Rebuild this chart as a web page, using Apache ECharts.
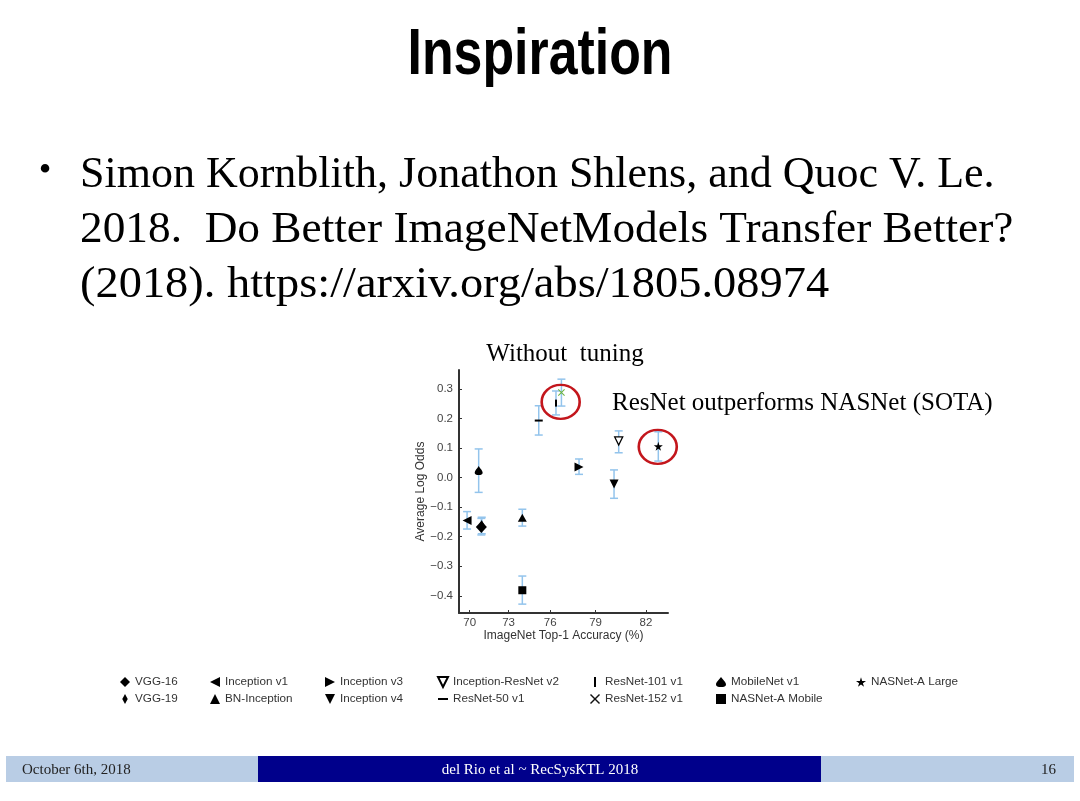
<!DOCTYPE html>
<html lang="en">
<head>
<meta charset="utf-8">
<title>Inspiration</title>
<script src="https://cdn.jsdelivr.net/npm/echarts@6/dist/echarts.min.js"></script>
<style>
    html, body { margin: 0; padding: 0; background: #fff; }
    #main { width: 1080px; height: 801px; }
</style>
</head>
<body>
<div id="main"></div>
<script type="text/javascript">
// data (Kornblith et al. 2018, "Without tuning")
var models = ['VGG-16', 'VGG-19', 'Inception v1', 'BN-Inception', 'Inception v3', 'Inception v4',
    'Inception-ResNet v2', 'ResNet-50 v1', 'ResNet-101 v1', 'ResNet-152 v1', 'MobileNet v1',
    'NASNet-A Mobile', 'NASNet-A Large'];
var accuracy = [70.92, 70.95, 69.79, 74.02, 77.94, 80.14, 80.42, 75.2, 76.4, 76.77, 70.71, 74.02, 82.68];
var logOdds = [-0.167, -0.162, -0.145, -0.136, 0.036, -0.022, 0.124, 0.193, 0.252, 0.288, 0.024, -0.381, 0.106];
var errLow = [-0.194, -0.190, -0.174, -0.164, 0.011, -0.070, 0.084, 0.144, 0.212, 0.242, -0.050, -0.428, 0.056];
var errHigh = [-0.138, -0.134, -0.115, -0.107, 0.063, 0.026, 0.158, 0.243, 0.293, 0.333, 0.097, -0.333, 0.155];
var xTicks = [70, 73, 76, 79, 82];
var yTicks = [-0.4, -0.3, -0.2, -0.1, 0.0, 0.1, 0.2, 0.3];
// highlighted points (red rings)
var ringAcc = [76.72, 82.65];
var ringOdds = [0.256, 0.104];

// legend columns, as on the slide
var legendCols = [
    ['VGG-16', 'VGG-19'],
    ['Inception v1', 'BN-Inception'],
    ['Inception v3', 'Inception v4'],
    ['Inception-ResNet v2', 'ResNet-50 v1'],
    ['ResNet-101 v1', 'ResNet-152 v1'],
    ['MobileNet v1', 'NASNet-A Mobile'],
    ['NASNet-A Large']
];
var legendLeft = [115, 205, 320, 432, 585, 711, 851];

// marker look per model
var markers = {
    'VGG-16': {symbol: 'diamond', size: [11, 12]},
    'VGG-19': {symbol: 'path://M3,0L6,5.5L3,11L0,5.5Z', size: [6, 11]},
    'Inception v1': {symbol: 'path://M0,5L10,0L10,10Z', size: [9, 9]},
    'BN-Inception': {symbol: 'triangle', size: [9, 8]},
    'Inception v3': {symbol: 'path://M10,5L0,0L0,10Z', size: [9, 9]},
    'Inception v4': {symbol: 'path://M0,0L10,0L5,10Z', size: [9, 9]},
    'Inception-ResNet v2': {symbol: 'path://M0,0L10,0L5,10Z', size: [8, 8], open: true},
    'ResNet-50 v1': {symbol: 'path://M0,0H10V2H0Z', size: [8, 2]},
    'ResNet-101 v1': {symbol: 'path://M0,0H2V10H0Z', size: [2, 7]},
    'ResNet-152 v1': {symbol: 'path://M0,1L1,0L5,4L9,0L10,1L6,5L10,9L9,10L5,6L1,10L0,9L4,5Z', size: [7, 7], color: '#6cb33f'},
    'MobileNet v1': {symbol: 'path://M5,0C7,3 10,5 10,7.5C10,9.5 8,10 5,10C2,10 0,9.5 0,7.5C0,5 3,3 5,0Z', size: [8, 9]},
    'NASNet-A Mobile': {symbol: 'rect', size: [8, 8]},
    'NASNet-A Large': {symbol: 'path://M50,0L61,35L98,35L68,57L79,91L50,70L21,91L32,57L2,35L39,35Z', size: [9, 9]}
};

function logit(pct) {
    var p = pct / 100;
    return Math.log(p / (1 - p));
}
function unlogit(v) {
    return 100 / (1 + Math.exp(-v));
}

var myChart = echarts.init(document.getElementById('main'));

var series = [];
// error bars
series.push({
    type: 'custom',
    silent: true,
    z: 1,
    encode: {x: 0, y: [1, 2]},
    data: models.map(function (m, i) {
        return [logit(accuracy[i]), errLow[i], errHigh[i]];
    }),
    renderItem: function (params, api) {
        var lo = api.coord([api.value(0), api.value(1)]);
        var hi = api.coord([api.value(0), api.value(2)]);
        var cap = 4;
        var st = {stroke: '#93c4ec', lineWidth: 1.5};
        return {
            type: 'group',
            children: [
                {type: 'line', shape: {x1: lo[0], y1: lo[1], x2: hi[0], y2: hi[1]}, style: st},
                {type: 'line', shape: {x1: lo[0] - cap, y1: lo[1], x2: lo[0] + cap, y2: lo[1]}, style: st},
                {type: 'line', shape: {x1: hi[0] - cap, y1: hi[1], x2: hi[0] + cap, y2: hi[1]}, style: st}
            ]
        };
    }
});
// one scatter series per model
models.forEach(function (m, i) {
    var mk = markers[m];
    series.push({
        name: m,
        type: 'scatter',
        z: 3,
        symbol: mk.symbol,
        symbolSize: mk.size,
        itemStyle: mk.open
            ? {color: '#fff', borderColor: '#000', borderWidth: 1.3, opacity: 1}
            : {color: mk.color || '#000', opacity: 1},
        data: [[logit(accuracy[i]), logOdds[i]]]
    });
});
// red rings
series.push({
    type: 'scatter',
    silent: true,
    z: 4,
    symbol: 'circle',
    symbolSize: [38, 34],
    itemStyle: {color: 'rgba(0,0,0,0)', borderColor: '#c3161c', borderWidth: 2.5, opacity: 1},
    data: ringAcc.map(function (a, i) { return [logit(a), ringOdds[i]]; })
});

var legends = legendCols.map(function (col, c) {
    return {
        orient: 'vertical',
        left: legendLeft[c],
        top: 671,
        itemWidth: 10,
        itemHeight: 10,
        itemGap: 5,
        selectedMode: false,
        textStyle: {fontFamily: 'Liberation Sans', fontSize: 11.7, color: '#333', lineHeight: 12},
        data: col.map(function (n) {
            return n === 'ResNet-152 v1' ? {name: n, itemStyle: {color: '#111'}} : n;
        })
    };
});

var serif = "'Liberation Serif', 'DejaVu Serif', serif";
var bodyLines = [
    'Simon Kornblith, Jonathon Shlens, and Quoc V. Le.',
    '2018.  Do Better ImageNetModels Transfer Better?',
    '(2018). https://arxiv.org/abs/1805.08974'
];
var bodyStretch = [1.0, 1.03, 1.055];

var graphics = [
    {type: 'text', x: 540, y: 56, scaleX: 0.81, style: {text: 'Inspiration', fill: '#000', align: 'center', verticalAlign: 'middle',
        fontFamily: "'Liberation Sans', Arial, sans-serif", fontWeight: 'bold', fontSize: 64}},
    {type: 'text', x: 45, y: 172, style: {text: '•', fill: '#000', align: 'center', verticalAlign: 'middle',
        fontFamily: serif, fontSize: 36}},
    {type: 'text', x: 565, y: 354, style: {text: 'Without  tuning', fill: '#000', align: 'center', verticalAlign: 'middle',
        fontFamily: serif, fontSize: 25}},
    {type: 'text', x: 612, y: 403, style: {text: 'ResNet outperforms NASNet (SOTA)', fill: '#000', align: 'left', verticalAlign: 'middle',
        fontFamily: serif, fontSize: 25}},
    {type: 'rect', shape: {x: 6, y: 756, width: 252, height: 26}, style: {fill: '#b9cde5'}},
    {type: 'rect', shape: {x: 258, y: 756, width: 563, height: 26}, style: {fill: '#00008b'}},
    {type: 'rect', shape: {x: 821, y: 756, width: 253, height: 26}, style: {fill: '#b9cde5'}},
    {type: 'text', x: 22, y: 770, style: {text: 'October 6th, 2018', fill: '#222', align: 'left', verticalAlign: 'middle',
        fontFamily: serif, fontSize: 15}},
    {type: 'text', x: 540, y: 770, style: {text: 'del Rio et al ~ RecSysKTL 2018', fill: '#fff', align: 'center', verticalAlign: 'middle',
        fontFamily: serif, fontSize: 15}},
    {type: 'text', x: 1056, y: 770, style: {text: '16', fill: '#222', align: 'right', verticalAlign: 'middle',
        fontFamily: serif, fontSize: 15}}
];
bodyLines.forEach(function (t, i) {
    graphics.push({type: 'text', x: 80, y: 175 + i * 55, scaleX: bodyStretch[i],
        style: {text: t, fill: '#000', align: 'left', verticalAlign: 'middle', fontFamily: serif, fontSize: 44}});
});

var option = {
    backgroundColor: '#fff',
    animation: false,
    grid: {left: 459, top: 370, width: 209, height: 243},
    xAxis: {
        type: 'value',
        min: logit(69.14),
        max: logit(83.2),
        name: 'ImageNet Top-1 Accuracy (%)',
        nameLocation: 'middle',
        nameGap: 16,
        nameTextStyle: {fontFamily: 'Liberation Sans', fontSize: 12, color: '#333'},
        splitLine: {show: false},
        axisLine: {show: true, onZero: false, lineStyle: {color: '#333', width: 2}},
        axisTick: {show: true, inside: true, length: 3, lineStyle: {color: '#333'},
            customValues: xTicks.map(logit)},
        axisLabel: {fontFamily: 'Liberation Sans', fontSize: 11.5, color: '#444', margin: 4,
            customValues: xTicks.map(logit),
            formatter: function (v) { return String(Math.round(unlogit(v))); }}
    },
    yAxis: {
        type: 'value',
        min: -0.458,
        max: 0.364,
        name: 'Average Log Odds',
        nameLocation: 'middle',
        nameGap: 31,
        nameTextStyle: {fontFamily: 'Liberation Sans', fontSize: 12, color: '#333'},
        splitLine: {show: false},
        axisLine: {show: true, onZero: false, lineStyle: {color: '#333', width: 2}},
        axisTick: {show: true, inside: true, length: 3, lineStyle: {color: '#333'}, customValues: yTicks},
        axisLabel: {fontFamily: 'Liberation Sans', fontSize: 11.5, color: '#444', margin: 6,
            customValues: yTicks,
            formatter: function (v) { return v.toFixed(1).replace('-', '\u2212'); }}
    },
    legend: legends,
    graphic: graphics,
    series: series
};
myChart.setOption(option);
</script>
</body>
</html>
